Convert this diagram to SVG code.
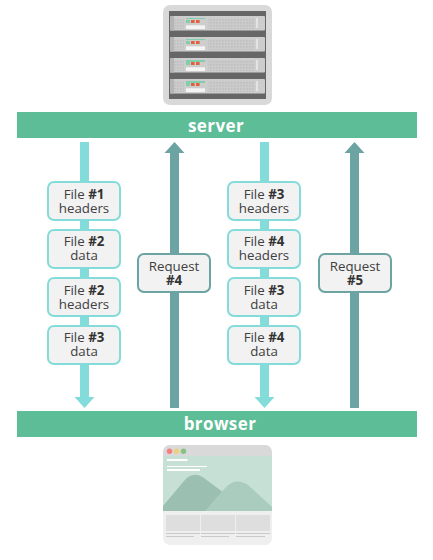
<svg xmlns="http://www.w3.org/2000/svg" xmlns:xlink="http://www.w3.org/1999/xlink" width="433" height="560" viewBox="0 0 433 560">
<style>
text{font-family:"Open Sans","Noto Sans","DejaVu Sans",sans-serif;text-anchor:middle}
.lbl{font-size:13.3px;fill:#404040}
.lbl tspan{font-weight:700;fill:#333}
.bar{fill:#5dbd97}
.bart{font-size:17px;font-weight:700;fill:#fff;letter-spacing:.4px}
.resp{fill:#f2f2f2;stroke:#84dcda;stroke-width:2}
.req{fill:#f2f2f2;stroke:#6ca3a3;stroke-width:2}
.d{fill:#84dcda}
.u{fill:#6ca3a3}
</style>
<defs>
<pattern id="vent" width="3" height="3" patternUnits="userSpaceOnUse"><rect width="3" height="3" fill="#cbcbcb"/><rect width="1.6" height="1.6" fill="#bfbfbf"/></pattern>
<g id="unit">
<rect x="170" y="0" width="95" height="14.500" rx="1" fill="#cdcdcd"/>
<rect x="170" y="0" width="4" height="14.500" fill="#b5b5b5"/>
<rect x="174" y="2" width="10" height="11" fill="url(#vent)"/>
<rect x="208" y="2" width="46" height="11" fill="url(#vent)"/>
<rect x="186" y="9.300" width="19" height="3.700" fill="#f4f4f4"/>
<rect x="256" y="2" width="2" height="10" fill="#e4e4e4"/>
<rect x="186" y="4" width="4" height="3" fill="#7fcfae"/>
<rect x="191" y="4" width="3.600" height="3" fill="#e2603a"/>
<rect x="196" y="4" width="3.600" height="3" fill="#e2603a"/>
</g>
</defs>
<g id="server-icon">
<rect x="163" y="5" width="109" height="100" rx="7" fill="#d9d9d9"/>
<rect x="169" y="11" width="97" height="88" fill="#666"/>
<use xlink:href="#unit" href="#unit" y="16"/>
<use xlink:href="#unit" href="#unit" y="37"/>
<use xlink:href="#unit" href="#unit" y="58"/>
<use xlink:href="#unit" href="#unit" y="79"/>
<rect x="186" y="18" width="19" height="1" fill="#7fcfae"/>
<rect x="186" y="39" width="19" height="1" fill="#7fcfae"/>
<rect x="186" y="60" width="19" height="2" fill="#7fcfae"/>
<rect x="186" y="81" width="19" height="2" fill="#7fcfae"/>
</g>
<g id="browser-icon">
<rect x="163" y="445" width="109" height="100" rx="7" fill="#efefef"/>
<path d="M163 456v-4a7 7 0 0 1 7-7h95a7 7 0 0 1 7 7v4z" fill="#d9d9d9"/>
<rect x="163" y="456" width="109" height="55" fill="#c6e0d6"/>
<path d="M163 506L184 481Q193 470 204 478L240 505V511H163z" fill="#9bbfb1"/>
<path d="M205 511L226 487Q236 477 248 485L272 507V511z" fill="#a9ccbf"/>
<circle cx="169.500" cy="451.300" r="2.700" fill="#f47f7f"/>
<circle cx="176.500" cy="451.300" r="2.700" fill="#f0cf7c"/>
<circle cx="183.500" cy="451.300" r="2.700" fill="#86c286"/>
<rect x="167" y="459" width="20.500" height="2" fill="#fff"/>
<rect x="167" y="466" width="40" height="1" fill="#fff"/>
<rect x="167" y="469" width="33" height="2" fill="#fff"/>
<g fill="#dedede">
<rect x="166" y="515" width="34" height="16"/>
<rect x="201" y="515" width="34" height="16"/>
<rect x="236" y="515" width="34" height="16"/>
</g>
<g fill="#c9c9c9">
<rect x="166" y="533" width="34" height="1"/>
<rect x="201" y="533" width="34" height="1"/>
<rect x="236" y="533" width="34" height="1"/>
<rect x="166" y="536" width="28" height="1"/>
<rect x="201" y="536" width="28" height="1"/>
<rect x="236" y="536" width="29" height="1"/>
</g>
</g>
<g id="connectors">
<path class="d" d="M80 142h9v255h5.500l-10 11-10-11H80z"/>
<path class="u" d="M170 408V153h-5.500l10-11 10 11H179v255z"/>
<path class="d" d="M260 142h9v255h5.500l-10 11-10-11H260z"/>
<path class="u" d="M350 408V153h-5.500l10-11 10 11H359v255z"/>
</g>
<g id="server"><rect class="bar" x="17" y="112" width="400" height="26"/><text class="bart" x="216" y="131.500">server</text></g>
<g id="browser"><rect class="bar" x="17" y="411" width="400" height="26"/><text class="bart" x="220" y="430">browser</text></g>
<g id="f1h"><rect class="resp" x="48" y="182" width="72" height="38" rx="6"/><text class="lbl" x="84" y="199">File <tspan>#1</tspan></text><text class="lbl" x="84" y="213">headers</text></g>
<g id="f2d"><rect class="resp" x="48" y="230" width="72" height="38" rx="6"/><text class="lbl" x="84" y="246">File <tspan>#2</tspan></text><text class="lbl" x="84" y="260">data</text></g>
<g id="f2h"><rect class="resp" x="48" y="278" width="72" height="38" rx="6"/><text class="lbl" x="84" y="295">File <tspan>#2</tspan></text><text class="lbl" x="84" y="309">headers</text></g>
<g id="f3d"><rect class="resp" x="48" y="326" width="72" height="38" rx="6"/><text class="lbl" x="84" y="342">File <tspan>#3</tspan></text><text class="lbl" x="84" y="356">data</text></g>
<g id="r4"><rect class="req" x="138" y="254" width="72" height="38" rx="6"/><text class="lbl" x="174" y="271">Request</text><text class="lbl" x="174" y="285"><tspan>#4</tspan></text></g>
<g id="f3h"><rect class="resp" x="228" y="182" width="72" height="38" rx="6"/><text class="lbl" x="264" y="199">File <tspan>#3</tspan></text><text class="lbl" x="264" y="213">headers</text></g>
<g id="f4h"><rect class="resp" x="228" y="230" width="72" height="38" rx="6"/><text class="lbl" x="264" y="246">File <tspan>#4</tspan></text><text class="lbl" x="264" y="260">headers</text></g>
<g id="f3d2"><rect class="resp" x="228" y="278" width="72" height="38" rx="6"/><text class="lbl" x="264" y="295">File <tspan>#3</tspan></text><text class="lbl" x="264" y="309">data</text></g>
<g id="f4d"><rect class="resp" x="228" y="326" width="72" height="38" rx="6"/><text class="lbl" x="264" y="342">File <tspan>#4</tspan></text><text class="lbl" x="264" y="356">data</text></g>
<g id="r5"><rect class="req" x="319" y="254" width="72" height="38" rx="6"/><text class="lbl" x="355" y="271">Request</text><text class="lbl" x="355" y="285"><tspan>#5</tspan></text></g>
</svg>
